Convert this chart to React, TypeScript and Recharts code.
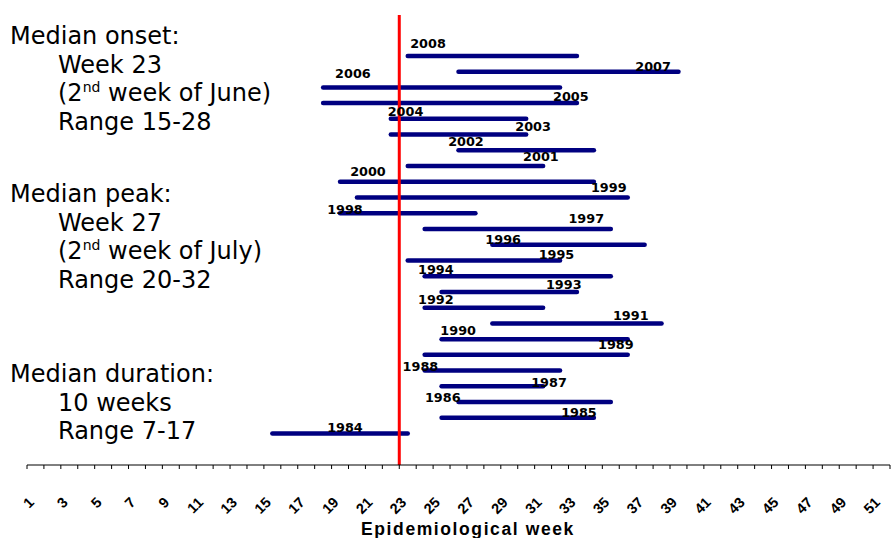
import React from 'react'
import { ComposedChart, Line, Scatter, XAxis, YAxis, ReferenceLine } from 'recharts'

// seasons, newest first; weeks
const years = [
  2008, 2007, 2006, 2005, 2004, 2003, 2002, 2001, 2000, 1999, 1998, 1997,
  1996, 1995, 1994, 1993, 1992, 1991, 1990, 1989, 1988, 1987, 1986, 1985, 1984,
]
const startWeek = [
  23.5, 26.5, 18.5, 18.5, 22.5, 22.5, 26.5, 23.5, 19.5, 20.5, 19.5, 24.5,
  28.5, 23.5, 24.5, 25.5, 24.5, 28.5, 25.5, 24.5, 24.5, 25.5, 26.5, 25.5, 15.5,
]
const endWeek = [
  33.5, 39.5, 32.5, 33.5, 30.5, 30.5, 34.5, 31.5, 34.5, 36.5, 27.5, 35.5,
  37.5, 32.5, 35.5, 33.5, 31.5, 38.5, 36.5, 36.5, 32.5, 31.5, 35.5, 34.5, 23.5,
]
// where each year label sits (week, and how far above its bar in year units)
const labelWeek = [
  24.7, 38.0, 20.26, 33.14, 23.37, 30.91, 26.94, 31.37, 21.15, 35.38, 19.79, 34.05,
  29.14, 32.29, 25.16, 32.72, 25.16, 36.68, 26.48, 35.8, 24.25, 31.85, 25.57, 33.62, 19.79,
]
const labelLift = [
  0.8, 0.36, 0.89, 0.43, 0.5, 0.5, 0.59, 0.59, 0.64, 0.65, 0.25, 0.68,
  0.34, 0.41, 0.43, 0.48, 0.53, 0.53, 0.57, 0.68, 0.24, 0.25, 0.3, 0.36, 0.39,
]
const weekTicks = Array.from({ length: 52 }, (_, i) => i + 1)
const medianOnset = 23

const NAVY = '#000080'

const renderYearLabel = (props: any) => {
  const { cx, cy, payload } = props
  return (
    <text
      x={cx}
      y={cy}
      dy="0.36em"
      textAnchor="middle"
      fontFamily="'DejaVu Sans', Verdana, sans-serif"
      fontWeight="bold"
      fontSize={12.8}
      fill="#000"
    >
      {payload.name}
    </text>
  )
}

const sideText: React.CSSProperties = {
  position: 'absolute',
  fontFamily: "'DejaVu Sans', Verdana, sans-serif",
  fontSize: 24,
  lineHeight: '28.5px',
  color: '#000',
  whiteSpace: 'nowrap',
}
const sup: React.CSSProperties = { fontSize: 14, lineHeight: 0, verticalAlign: '9px' }

export default function App() {
  const labels = years.map((yr, i) => ({ w: labelWeek[i], y: yr + labelLift[i], name: String(yr) }))

  return (
    <div style={{ position: 'absolute', left: 0, top: 0, width: 896, height: 538, background: '#fff' }}>
      <ComposedChart width={896} height={538} margin={{ top: 15, right: 6, left: 27, bottom: 0 }}>
        <XAxis
          dataKey="w"
          type="number"
          domain={[1, 52]}
          ticks={weekTicks}
          interval={0}
          tickSize={4}
          tickMargin={27}
          height={73}
          axisLine={{ stroke: '#000', strokeWidth: 1 }}
          tickLine={{ stroke: '#000' }}
          tick={{
            angle: -45,
            textAnchor: 'end',
            verticalAnchor: 'end',
            dx: 0.7,
            fontFamily: "'Liberation Sans', Arial, sans-serif",
            fontWeight: 'bold',
            fontSize: 14.5,
            fill: '#000',
          }}
          tickFormatter={(v: number) => (v % 2 === 1 ? String(v) : '')}
          allowDataOverflow
        />
        <YAxis dataKey="y" type="number" domain={[1982, 2010.6]} hide allowDataOverflow />
        {years.map((yr, i) => (
          <Line
            key={yr}
            data={[{ w: startWeek[i], y: yr }, { w: endWeek[i], y: yr }]}
            dataKey="y"
            stroke={NAVY}
            strokeWidth={4.5}
            strokeLinecap="round"
            dot={false}
            activeDot={false}
            isAnimationActive={false}
          />
        ))}
        <Scatter data={labels} shape={renderYearLabel} isAnimationActive={false} />
        <ReferenceLine x={medianOnset} stroke="#ff0000" strokeWidth={3} />
      </ComposedChart>

      <div style={{ ...sideText, left: 10, top: 22 }}>
        <div>Median onset:</div>
        <div style={{ paddingLeft: 48 }}>Week 23</div>
        <div style={{ paddingLeft: 48 }}>(2<sup style={sup}>nd</sup> week of June)</div>
        <div style={{ paddingLeft: 48 }}>Range 15-28</div>
      </div>
      <div style={{ ...sideText, left: 10, top: 180 }}>
        <div>Median peak:</div>
        <div style={{ paddingLeft: 48 }}>Week 27</div>
        <div style={{ paddingLeft: 48 }}>(2<sup style={sup}>nd</sup> week of July)</div>
        <div style={{ paddingLeft: 48 }}>Range 20-32</div>
      </div>
      <div style={{ ...sideText, left: 10, top: 360 }}>
        <div>Median duration:</div>
        <div style={{ paddingLeft: 48 }}>10 weeks</div>
        <div style={{ paddingLeft: 48 }}>Range 7-17</div>
      </div>

      <div
        style={{
          position: 'absolute',
          left: 468,
          top: 519,
          transform: 'translateX(-50%)',
          fontFamily: "'Liberation Sans', Arial, sans-serif",
          fontWeight: 'bold',
          fontSize: 17.5,
          letterSpacing: 1.6,
          lineHeight: '20px',
          whiteSpace: 'nowrap',
        }}
      >
        Epidemiological week
      </div>
    </div>
  )
}
